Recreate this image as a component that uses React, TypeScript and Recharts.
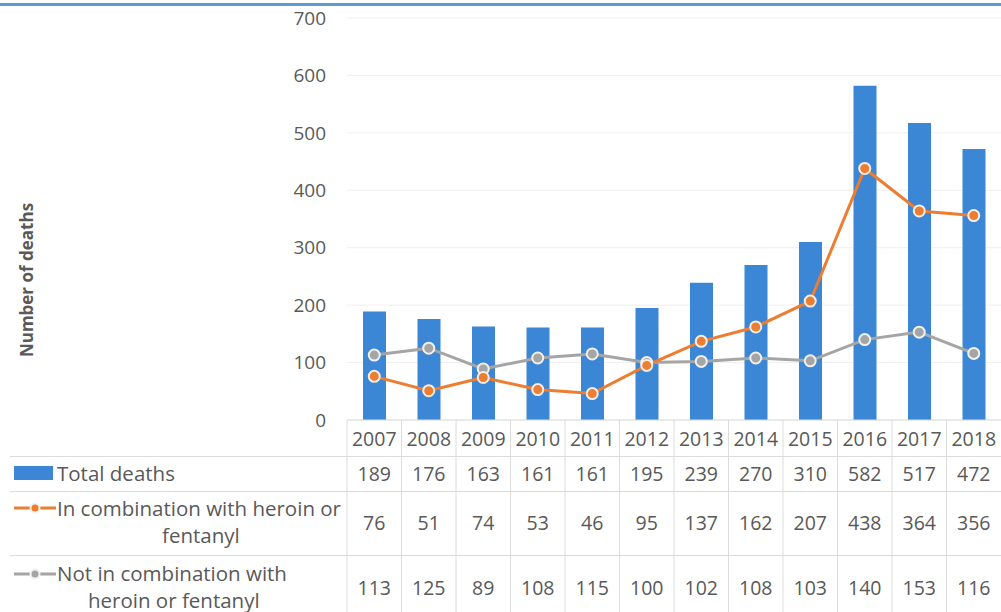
import React from 'react'
import { ComposedChart, Bar, Line, XAxis, YAxis, CartesianGrid } from 'recharts'

const years = ['2007', '2008', '2009', '2010', '2011', '2012', '2013', '2014', '2015', '2016', '2017', '2018']
const totalDeaths = [189, 176, 163, 161, 161, 195, 239, 270, 310, 582, 517, 472]
const withHeroin = [76, 51, 74, 53, 46, 95, 137, 162, 207, 438, 364, 356]
const withoutHeroin = [113, 125, 89, 108, 115, 100, 102, 108, 103, 140, 153, 116]
const yTicks = [0, 100, 200, 300, 400, 500, 600, 700]

const data = years.map((year, i) => ({
  year,
  total: totalDeaths[i],
  heroin: withHeroin[i],
  other: withoutHeroin[i],
}))

const BLUE = '#3B86D5'
const ORANGE = '#ED7D31'
const GREY = '#A5A5A5'
const TEXT = '#595959'
const RULE = '#DCDCDC'
const FONT = '"Open Sans", "Noto Sans", sans-serif'

const W = 1001
const H = 612
const PLOT_LEFT = 347
const PLOT_TOP = 18
const PLOT_BOTTOM = 420
const HALF_BAND = (W - PLOT_LEFT) / years.length / 2

// year label plus the data table column under each category
const TableTick = ({ x, y, payload }: any) => {
  const i = payload.index
  const txt = { fill: TEXT, fontSize: 19.5, fontFamily: FONT, textAnchor: 'middle' as const, dominantBaseline: 'central' as const }
  return (
    <g>
      <line x1={x - HALF_BAND} x2={x - HALF_BAND} y1={y} y2={H} stroke={RULE} />
      <text x={x} y={y + 18} {...txt}>{payload.value}</text>
      <text x={x} y={473} {...txt}>{totalDeaths[i]}</text>
      <text x={x} y={522} {...txt}>{withHeroin[i]}</text>
      <text x={x} y={587} {...txt}>{withoutHeroin[i]}</text>
    </g>
  )
}

const rule = (top: number, left: number) => (
  <div style={{ position: 'absolute', top, left, right: 0, height: 1, background: RULE }} />
)

const LegendLine = ({ color, top }: { color: string; top: number }) => (
  <svg style={{ position: 'absolute', left: 12, top: top - 7 }} width={46} height={14}>
    <line x1={2} x2={44} y1={7} y2={7} stroke={color} strokeWidth={3} />
    <circle cx={23} cy={7} r={4.5} fill={color} stroke="#f4f0ea" strokeWidth={2} />
  </svg>
)

// legend label block; lines = [text, indent]
const label = (lines: [string, number][], left: number, top: number) => (
  <div style={{ position: 'absolute', left, top: top - 13.5, lineHeight: '27px', fontSize: 20.5, color: TEXT, whiteSpace: 'nowrap' }}>
    {lines.map(([t, indent], i) => (
      <React.Fragment key={i}>
        {i > 0 && <br />}
        <span style={{ marginLeft: indent }}>{t}</span>
      </React.Fragment>
    ))}
  </div>
)

export default function App() {
  return (
    <div style={{ position: 'absolute', left: 0, top: 0, width: W, height: H, background: '#fff', fontFamily: FONT, overflow: 'hidden' }}>
      <div style={{ position: 'absolute', left: 0, right: 0, top: 3, height: 3, background: '#5B9BD5' }} />
      <ComposedChart width={W} height={H} data={data} margin={{ top: PLOT_TOP, right: 0, left: 0, bottom: 0 }}>
        <CartesianGrid vertical={false} stroke="#EFEFEF" />
        <XAxis
          dataKey="year"
          height={H - PLOT_BOTTOM}
          tickLine={false}
          tickSize={0}
          tickMargin={0}
          interval={0}
          axisLine={{ stroke: RULE }}
          tick={<TableTick />}
        />
        <YAxis
          width={PLOT_LEFT}
          domain={[0, 700]}
          ticks={yTicks}
          axisLine={false}
          tickLine={false}
          tickSize={0}
          tickMargin={21}
          tick={{ fill: TEXT, fontSize: 19, fontFamily: FONT }}
        />
        <Bar dataKey="total" fill={BLUE} barSize={23} isAnimationActive={false} />
        <Line
          dataKey="other"
          stroke={GREY}
          strokeWidth={3}
          dot={{ r: 5.5, fill: GREY, stroke: '#f2f0ec', strokeWidth: 2 }}
          isAnimationActive={false}
        />
        <Line
          dataKey="heroin"
          stroke={ORANGE}
          strokeWidth={3}
          dot={{ r: 5.5, fill: ORANGE, stroke: '#f6eee6', strokeWidth: 2 }}
          isAnimationActive={false}
        />
      </ComposedChart>

      {rule(456, 10)}
      {rule(491, 10)}
      {rule(555, 10)}

      <div
        style={{
          position: 'absolute', left: 26, top: 280, transform: 'translate(-50%, -50%) rotate(-90deg)',
          fontSize: 17, fontWeight: 700, color: TEXT, whiteSpace: 'nowrap',
        }}
      >
        Number of deaths
      </div>

      <div style={{ position: 'absolute', left: 14, top: 466, width: 39, height: 14, background: BLUE }} />
      {label([['Total deaths', 0]], 57, 473)}

      <LegendLine color={ORANGE} top={508} />
      {label([['In combination with heroin or', 0], ['fentanyl', 105]], 57, 508)}

      <LegendLine color={GREY} top={574} />
      {label([['Not in combination with', 0], ['heroin or fentanyl', 31]], 57, 573)}
    </div>
  )
}
